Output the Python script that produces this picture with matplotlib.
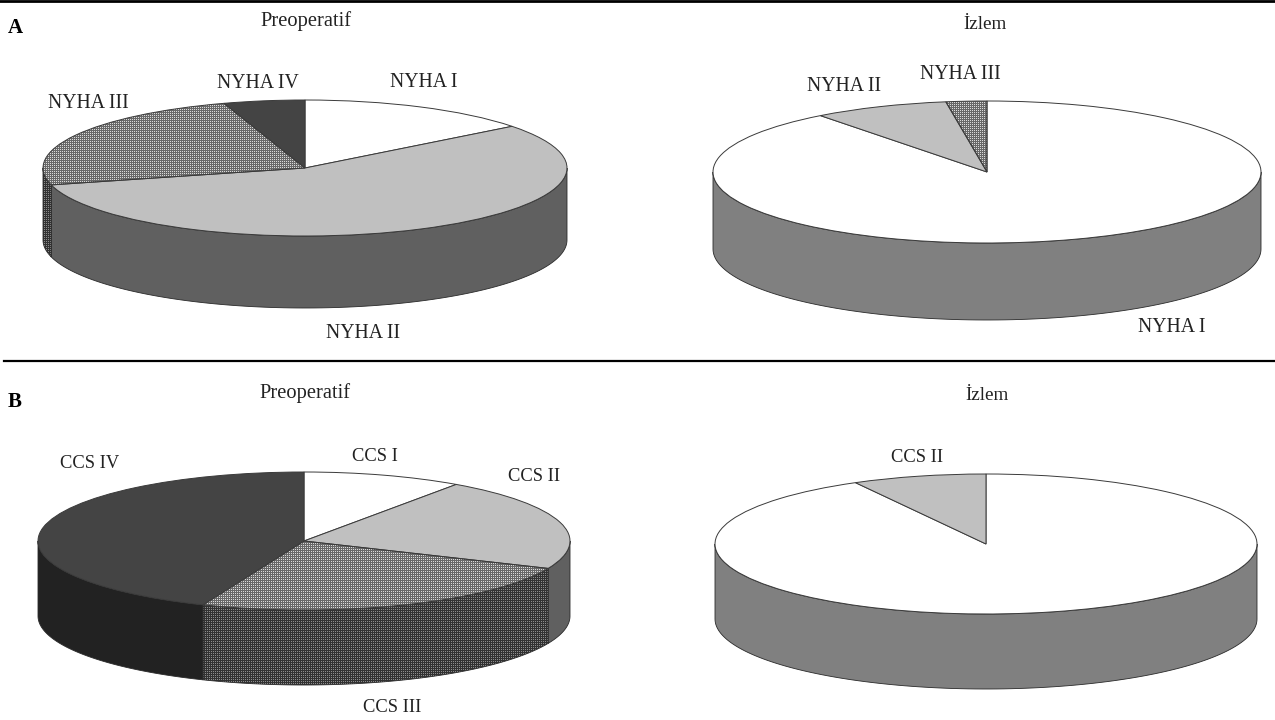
import numpy as np
import matplotlib
matplotlib.use("Agg")
import matplotlib.pyplot as plt

# --- data (percent shares, clockwise from 12 o'clock) ---
a_pre_labels = ["NYHA I", "NYHA II", "NYHA III", "NYHA IV"]
a_pre_values = [14.5, 56.5, 24, 5]
a_post_labels = ["NYHA I", "NYHA II", "NYHA III"]
a_post_values = [89.6, 8, 2.4]
b_pre_labels = ["CCS I", "CCS II", "CCS III", "CCS IV"]
b_pre_values = [9.7, 21.8, 24.7, 43.8]
b_post_labels = ["CCS I", "CCS II"]
b_post_values = [92, 8]
title_pre = "Preoperatif"
title_post = "İzlem"

# --- style / layout ---
W, H = 1275, 720
plt.rcParams["font.family"] = ["Liberation Serif", "DejaVu Serif"]
TXT = "#222222"
FS_NYHA = 14.2
FS_CCS = 13.3
FS_PRE = 14.8
FS_POST = 13.8

# class index -> (top colour, wall colour, dotted)
STYLE = [("#ffffff", "#808080", False),
         ("#c0c0c0", "#606060", False),
         ("#c0c0c0", "#5c5c5c", True),
         ("#444444", "#222222", False)]
DOT_TOP = (218, 104)    # light dot, dark grid
DOT_WALL = (140, 50)


def dot_texture(ny, nx, light, dark):
    """Fine print-screen texture: 2 px grid of dark lines with light dots."""
    img = np.full((ny, nx), dark, dtype=float)
    img[1::2, 1::2] = light
    return img


def dotted(ax, artist, light_dark, nx, ny, extent, z):
    im = ax.imshow(dot_texture(ny, nx, *light_dark), cmap="gray", vmin=0, vmax=255,
                   extent=extent, aspect="auto", interpolation="nearest", zorder=z)
    im.set_clip_path(artist)


def pie3d(fig, values, cx, cy, rx, ry, depth):
    top = cy - ry
    bottom = cy + ry + depth
    ax = fig.add_axes([(cx - rx) / W, 1 - bottom / H, 2 * rx / W, (bottom - top) / H])
    ax.patch.set_alpha(0)
    d = depth / ry
    wedges, _ = ax.pie(values, startangle=90, counterclock=False, radius=1,
                       wedgeprops=dict(linewidth=0.7, edgecolor="#3a3a3a", clip_on=False))
    extent = (-1, 1, -1 - d, 1)
    nx, ny = int(2 * rx), int(bottom - top)
    edges = np.cumsum([0] + list(values)) / sum(values) * 360
    for i, w in enumerate(wedges):
        top_c, wall_c, has_dots = STYLE[i]
        w.set_facecolor("none" if has_dots else top_c)
        w.set_zorder(5)
        if has_dots:
            dotted(ax, w, DOT_TOP, nx, ny, extent, 4)
        a = max(edges[i], 90)
        b = min(edges[i + 1], 270)
        if b > a:
            t = np.radians(np.linspace(a, b, 120))
            xs = np.sin(t)
            ys = np.cos(t)
            poly = ax.fill(np.r_[xs, xs[::-1]], np.r_[ys, ys[::-1] - d],
                           facecolor=wall_c, edgecolor="#2a2a2a", linewidth=0.6,
                           zorder=2, clip_on=False)[0]
            if has_dots:
                poly.set_facecolor("none")
                poly.set_zorder(3)
                dotted(ax, poly, DOT_WALL, nx, ny, extent, 2)
    ax.set_aspect("auto")
    ax.set_xlim(-1, 1)
    ax.set_ylim(-1 - d, 1)
    ax.set_axis_off()
    return ax


fig = plt.figure(figsize=(W / 100, H / 100), dpi=100, facecolor="white")
bg = fig.add_axes([0, 0, 1, 1])
bg.set_xlim(0, W)
bg.set_ylim(H, 0)
bg.set_axis_off()

pie3d(fig, a_pre_values, 305, 168, 262, 68, 72)
pie3d(fig, a_post_values, 987, 172, 274, 71, 77)
pie3d(fig, b_pre_values, 304, 541, 266, 69, 75)
pie3d(fig, b_post_values, 986, 544, 271, 70, 75)

# rules
bg.plot([0, W], [1, 1], color="black", lw=2.0)
bg.plot([4, W], [361, 361], color="black", lw=1.6)

# panel letters
bg.text(8, 33, "A", fontsize=15, fontweight="bold", va="baseline", ha="left", color="black")
bg.text(8, 407, "B", fontsize=15, fontweight="bold", va="baseline", ha="left", color="black")

# titles
for x, y, s, fs in [(306, 26, title_pre, FS_PRE), (985.5, 29, title_post, FS_POST),
                    (305, 398, title_pre, FS_PRE), (986.5, 400, title_post, FS_POST)]:
    bg.text(x, y, s, fontsize=fs, ha="center", va="baseline", color=TXT)

# slice labels
label_xy = [
    (a_pre_labels, [(424, 87), (363, 338), (88, 108), (258, 88)], FS_NYHA),
    (a_post_labels, [(1172, 332), (844, 91), (960, 79)], FS_NYHA),
    (b_pre_labels, [(375, 461), (534, 481), (392, 712), (90, 468)], FS_CCS),
    (b_post_labels, [(1100, 680), (917, 462)], FS_CCS),
]
for labels, spots, fs in label_xy:
    for s, (x, y) in zip(labels, spots):
        bg.text(x, y, s, fontsize=fs, ha="center", va="baseline", color=TXT)

fig.savefig("out.png", dpi=100, facecolor="white")
